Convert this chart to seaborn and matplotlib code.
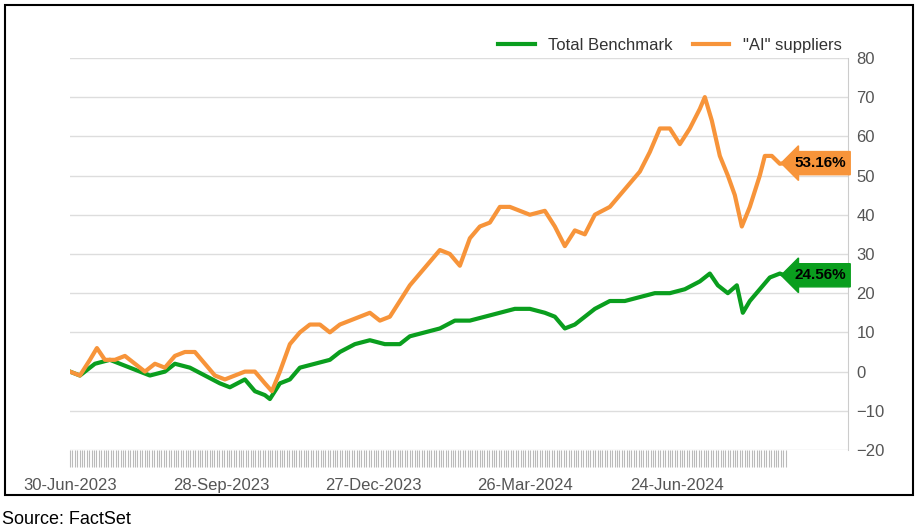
import matplotlib
matplotlib.use("Agg")
import matplotlib.pyplot as plt
import seaborn as sns
import pandas as pd
import numpy as np
from matplotlib.patches import Rectangle

plt.rcParams["font.family"] = "Liberation Sans"

# pixel-read traces converted to trading-day index and % return
px_green = [70,80,95,110,130,150,165,175,190,205,220,230,245,255,265,270,280,290,300,315,330,340,355,370,385,400,410,425,440,455,470,485,500,515,530,545,555,565,575,585,595,610,625,640,655,670,685,700,710,718,728,737,743,750,760,770,780,785]
val_green = [0,-1,2,3,1,-1,0,2,1,-1,-3,-4,-2,-5,-6,-7,-3,-2,1,2,3,5,7,8,7,7,9,10,11,13,13,14,15,16,16,15,14,11,12,14,16,18,18,19,20,20,21,23,25,22,20,22,15,18,21,24,25,24.56]
px_orange = [70,80,90,97,105,115,125,135,145,155,165,175,185,195,205,215,225,235,245,255,265,272,280,290,300,310,320,330,340,350,360,370,380,390,400,410,420,430,440,450,460,470,480,490,500,510,520,530,545,555,565,575,585,595,610,620,630,640,650,660,670,680,690,700,705,712,720,728,735,742,750,760,765,772,780,785]
val_orange = [0,-1,3,6,3,3,4,2,0,2,1,4,5,5,2,-1,-2,-1,0,0,-3,-5,0,7,10,12,12,10,12,13,14,15,13,14,18,22,25,28,31,30,27,34,37,38,42,42,41,40,41,37,32,36,35,40,42,45,48,51,56,62,62,58,62,67,70,64,55,50,45,37,42,50,55,55,53,53.16]
tick_days = [0, 63, 126, 189, 252]
tick_labels = ["30-Jun-2023", "28-Sep-2023", "27-Dec-2023", "26-Mar-2024", "24-Jun-2024"]
series_names = ["Total Benchmark", '"AI" suppliers']
last_day = 297

def to_day(p):
    return [(v - 70) / 2.41 for v in p]

df = pd.concat([
    pd.DataFrame({"day": to_day(px_green), "val": val_green, "series": series_names[0]}),
    pd.DataFrame({"day": to_day(px_orange), "val": val_orange, "series": series_names[1]}),
])
colors = {series_names[0]: "#0a9e1e", series_names[1]: "#f7943a"}

fig = plt.figure(figsize=(9.2, 5.31), dpi=100)
ax = fig.add_axes([0.076, 0.1525, 0.846, 0.7385])
sns.lineplot(data=df, x="day", y="val", hue="series", palette=colors, linewidth=3.0, ax=ax, legend=True)
ax.set_xlim(0, 323)
ax.set_ylim(-20, 80)
ax.set_yticks(range(-20, 81, 10))
ax.yaxis.tick_right()
ax.tick_params(axis="y", length=0, labelsize=12, labelcolor="#555", pad=6)
ax.grid(axis="y", color="#dddddd", linewidth=1)
ax.set_axisbelow(True)
for s in ["top", "left", "bottom"]:
    ax.spines[s].set_visible(False)
ax.spines["right"].set_color("#cccccc")
ax.set_xticks(tick_days)
ax.set_xticklabels(tick_labels, fontsize=12, color="#555")
ax.set_xticks(range(0, last_day + 1), minor=True)
ax.tick_params(axis="x", which="both", length=12, color="#bbbbbb", width=0.8, pad=8)
ax.set_xlabel(""); ax.set_ylabel("")

for v, c in [(val_orange[-1], colors[series_names[1]]), (val_green[-1], colors[series_names[0]])]:
    ax.annotate(f"{v:.2f}%", xy=(300.5, v), xytext=(300.5, v), fontsize=11, fontweight="bold",
                color="black", va="center", ha="left", annotation_clip=False,
                bbox=dict(boxstyle="larrow,pad=0.3", fc=c, ec=c))

leg = ax.legend(loc="lower right", bbox_to_anchor=(1.0, 0.995), ncol=2, frameon=False,
                fontsize=12, handlelength=2.2, columnspacing=1.2, borderaxespad=0.0)
for t in leg.get_texts():
    t.set_color("#333")

fig.patches.append(Rectangle((5/920, 1 - 495/531), 908/920, 490/531, transform=fig.transFigure,
                             fill=False, ec="black", lw=1.5))
fig.text(2/920, 1 - 519/531, "Source: FactSet", fontsize=13, va="center", ha="left")
fig.savefig("out.png", dpi=100)
